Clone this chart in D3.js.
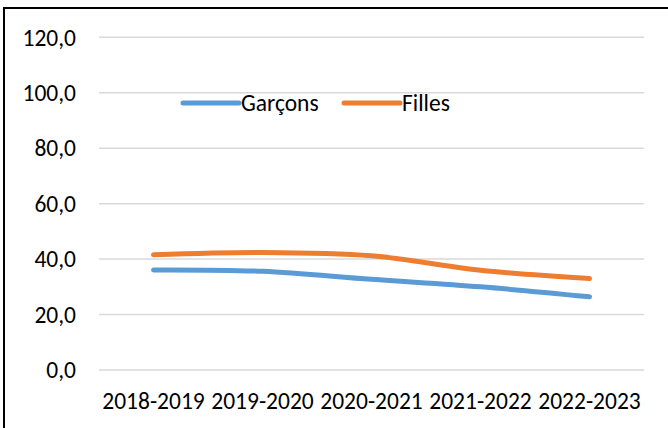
<!DOCTYPE html>
<html><head><meta charset="utf-8">
<script src="https://cdn.jsdelivr.net/npm/d3@7"></script>
<style>html,body{margin:0;padding:0;background:#fff;overflow:hidden}</style>
</head><body>
<script>
const categories = ["2018-2019","2019-2020","2020-2021","2021-2022","2022-2023"];
const garcons = [36.1, 35.6, 32.7, 30.0, 26.4];
const filles = [41.6, 42.4, 41.2, 36.0, 33.0];
const yTicks = [0,20,40,60,80,100,120];
const seriesNames = ["Garçons","Filles"];
const colors = ["#5B9BD5","#ED7D31"];

const W = 668, H = 428;
const font = "Carlito, Calibri, 'Liberation Sans', sans-serif";
const fs = 23.5;
const svg = d3.select("body").append("svg").attr("width", W).attr("height", H);

svg.append("rect").attr("x",4).attr("y",8).attr("width",800).attr("height",600)
  .attr("fill","#fff").attr("stroke","#000").attr("stroke-width",2);

const x = d3.scaleBand().domain(categories).range([99, 644]);
const y = d3.scaleLinear().domain([0,120]).range([370, 37.3]);

const fmt = v => d3.format(".1f")(v).replace(".", ",");

const grid = svg.append("g");
grid.selectAll("line").data(yTicks).join("line")
  .attr("x1",99).attr("x2",644)
  .attr("y1",d=>y(d)).attr("y2",d=>y(d))
  .attr("stroke","#d9d9d9").attr("stroke-width",1.5);

const yAxis = d3.axisLeft(y).tickValues(yTicks).tickFormat(fmt).tickSize(0).tickPadding(0);
const ya = svg.append("g").attr("transform","translate(76,0)").call(yAxis);
ya.select(".domain").remove();
ya.selectAll("text").attr("font-family",font).attr("font-size",fs).attr("fill","#000").attr("dy","0.33em");

const xAxis = d3.axisBottom(x).tickSize(0).tickPadding(0);
const xa = svg.append("g").attr("transform","translate(0,409)").call(xAxis);
xa.select(".domain").remove();
xa.selectAll("text").attr("font-family",font).attr("font-size",fs).attr("fill","#000").attr("dy","0");

const line = d3.line().x((d,i)=>x(categories[i]) + x.bandwidth()/2).y(d=>y(d)).curve(d3.curveCatmullRom.alpha(0.5));
[garcons, filles].forEach((s,i)=>{
  svg.append("path").datum(s).attr("d", line).attr("fill","none")
    .attr("stroke", colors[i]).attr("stroke-width",5).attr("stroke-linecap","round").attr("stroke-linejoin","round");
});

const legendX = [183, 344];
seriesNames.forEach((n,i)=>{
  const g = svg.append("g");
  g.append("line").attr("x1",legendX[i]).attr("x2",legendX[i]+56).attr("y1",103).attr("y2",103)
    .attr("stroke",colors[i]).attr("stroke-width",5).attr("stroke-linecap","round");
  g.append("text").attr("x",legendX[i]+58).attr("y",103).attr("dy","0.33em")
    .attr("font-family",font).attr("font-size",fs).attr("fill","#000").text(n);
});
</script>
</body></html>
